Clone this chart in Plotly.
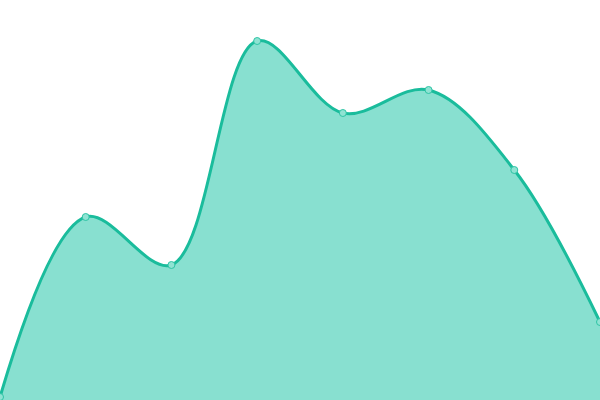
import plotly.graph_objects as go

x_vals = [0, 1, 2, 3, 4, 5, 6, 7]
y_vals = [0.75, 45.75, 33.75, 89.75, 71.75, 77.5, 57.5, 19.5]

fig = go.Figure(go.Scatter(
    x=x_vals, y=y_vals, mode="lines+markers",
    line=dict(color="#1abc9c", width=3, shape="spline", smoothing=1),
    fill="tozeroy", fillcolor="#88e0d0",
    marker=dict(size=7, color="#8fe3d3", line=dict(color="#2ec4a5", width=1)),
    cliponaxis=False,
    hoverinfo="skip",
))
fig.update_layout(
    width=600, height=400, margin=dict(l=0, r=0, t=0, b=0),
    paper_bgcolor="white", plot_bgcolor="white", showlegend=False,
    xaxis=dict(range=[0, 7], visible=False),
    yaxis=dict(range=[0, 100], visible=False),
)
fig.write_html("out.html", config={"displayModeBar": False},
               post_script="document.body.style.margin='0';document.body.style.overflow='hidden';")
